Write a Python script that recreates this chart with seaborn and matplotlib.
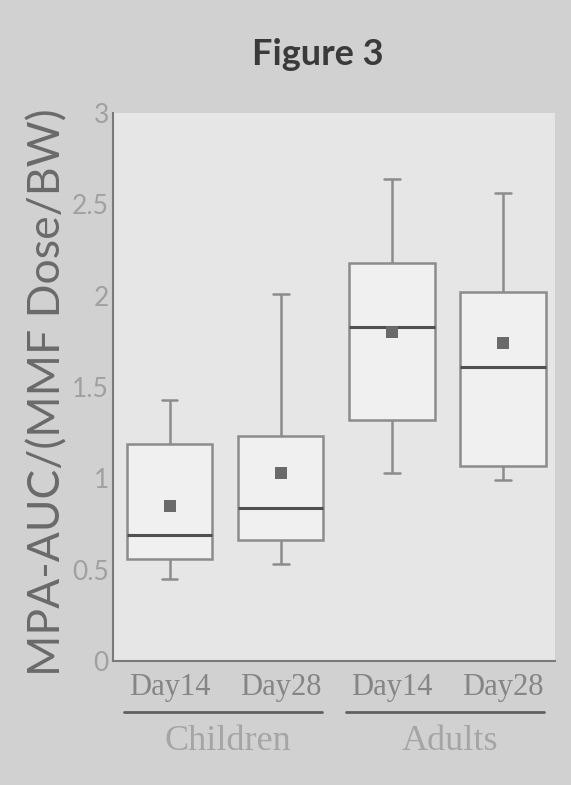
import numpy as np
import pandas as pd
import matplotlib
matplotlib.use("Agg")
import matplotlib.pyplot as plt
import matplotlib.transforms as mtransforms
import seaborn as sns

# ---- data ----
groups = ["Children", "Children", "Adults", "Adults"]
days = ["Day14", "Day28", "Day14", "Day28"]
whisker_low = [0.45, 0.53, 1.03, 0.99]
q1 = [0.56, 0.665, 1.32, 1.07]
median = [0.69, 0.84, 1.83, 1.61]
q3 = [1.19, 1.23, 2.18, 2.02]
whisker_high = [1.43, 2.01, 2.64, 2.56]
means = [0.85, 1.03, 1.80, 1.74]
y_ticks = [0, 0.5, 1, 1.5, 2, 2.5, 3]
y_tick_labels = ["0", "0.5", "1", "1.5", "2", "2.5", "3"]
group_labels = ["Children", "Adults"]
title = "Figure 3"
y_label = "MPA-AUC/(MMF Dose/BW)"

box_ids = [f"{g} {d}" for g, d in zip(groups, days)]
rows = []
for i, b in enumerate(box_ids):
    for v in (whisker_low[i], q1[i], median[i], q3[i], whisker_high[i]):
        rows.append({"box": b, "value": v})
df = pd.DataFrame(rows)
mean_df = pd.DataFrame({"box": box_ids, "mean": means})

sns.set_theme(style="white")
plt.rcParams["font.family"] = ["Lato", "DejaVu Sans"]
serif = ["Liberation Serif", "DejaVu Serif"]

fig = plt.figure(figsize=(5.71, 7.85), dpi=100)
fig.patch.set_facecolor("#d1d1d1")
ax = fig.add_axes([0.198, 0.158, 0.774, 0.698])
ax.set_facecolor("#e6e6e6")

sns.boxplot(data=df, x="box", y="value", order=box_ids, whis=(0, 100),
            width=0.77, color="#f0f0f0", linecolor="#8c8c8c", linewidth=1.8,
            medianprops=dict(color="#505050", linewidth=2.2),
            capwidths=0.14, showfliers=False, ax=ax)
sns.stripplot(data=mean_df, x="box", y="mean", order=box_ids, jitter=False,
              marker="s", size=9, color="#6a6a6a", linewidth=0, ax=ax, zorder=5)

ax.set_xlim(-0.51, 3.47)
ax.set_ylim(0, 3)
ax.set_yticks(y_ticks)
ax.set_yticklabels(y_tick_labels)
ax.set_xticks(range(len(days)))
ax.set_xticklabels(days, fontfamily=serif)
ax.tick_params(axis="both", length=0)
ax.tick_params(axis="y", labelsize=19, labelcolor="#a0a0a0", pad=3)
ax.tick_params(axis="x", labelsize=22, labelcolor="#858585", pad=9)
for s in ("top", "right"):
    ax.spines[s].set_visible(False)
for s in ("left", "bottom"):
    ax.spines[s].set_color("#7a7a7a")
    ax.spines[s].set_linewidth(1.5)

ax.set_xlabel("")
ax.set_ylabel(y_label, fontsize=32, color="#6a6a6a")
ax.yaxis.set_label_coords(-0.10, 0.49)

trans = mtransforms.blended_transform_factory(ax.transData, ax.transAxes)
for gi, g in enumerate(group_labels):
    x0 = 2 * gi - 0.41
    x1 = 2 * gi + 1.37
    ax.plot([x0, x1], [-0.093, -0.093], transform=trans, color="#606060",
            lw=2, clip_on=False)
    ax.text(2 * gi + 0.52, -0.147, g, transform=trans, ha="center", va="center",
            fontsize=26, color="#a5a5a5", fontfamily=serif)

fig.text(0.556, 0.93, title, ha="center", va="center", fontsize=26,
         fontweight="bold", color="#3a3a3a")

fig.savefig("out.png", dpi=100, facecolor=fig.get_facecolor())
